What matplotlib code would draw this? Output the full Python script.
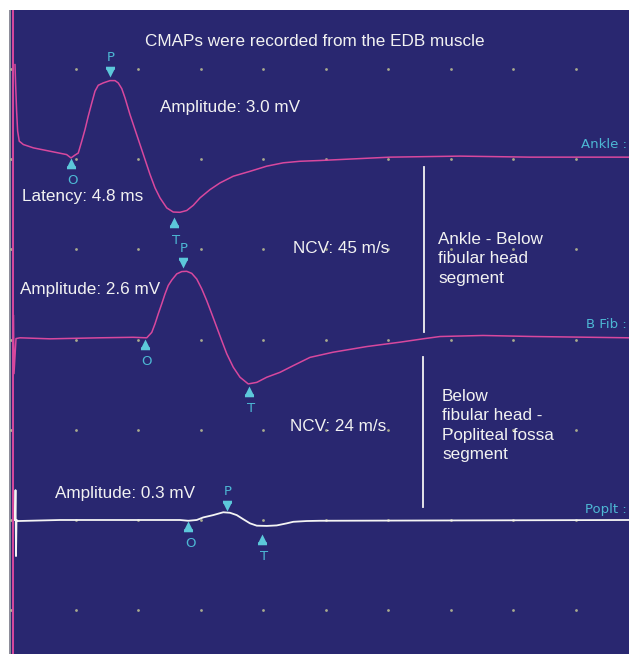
import numpy as np
import matplotlib
matplotlib.use("Agg")
import matplotlib.pyplot as plt
from matplotlib.path import Path
from matplotlib import transforms

# ---------------- data (time in ms, amplitude in mV relative to baseline) ----------------
ankle_t = [0.16, 0.21, 0.29, 0.37, 0.50, 0.83, 1.63, 2.96, 4.29, 4.64, 4.96, 5.22, 5.50,
           5.76, 6.02, 6.30, 6.56, 6.82, 7.22, 7.76, 8.16, 8.42, 8.70, 8.96, 9.36, 9.76,
           10.16, 10.56, 10.96, 11.36, 11.76, 12.30, 12.82, 13.36, 13.90, 14.42, 14.96,
           15.76, 16.56, 17.62, 18.96, 20.30, 21.62, 22.96, 24.56, 30.16, 35.76, 41.36, 49.28]
ankle_mv = [3.67, 2.90, 1.86, 1.09, 0.70, 0.57, 0.44, 0.31, 0.18, 0.05, 0.16, 0.24, 0.70,
            1.15, 1.67, 2.18, 2.64, 2.87, 2.96, 3.05, 3.05, 2.96, 2.74, 2.38, 1.73, 1.15,
            0.57, -0.01, -0.59, -1.11, -1.50, -1.89, -2.05, -2.06, -1.99, -1.79, -1.50,
            -1.18, -0.92, -0.66, -0.47, -0.27, -0.14, -0.08, -0.05, 0.08, 0.12, 0.08, 0.08]

bfib_t = [0.04, 0.08, 0.24, 0.56, 2.96, 6.96, 9.60, 10.70, 11.10, 11.36, 11.62, 11.90,
          12.16, 12.42, 12.70, 13.10, 13.50, 13.90, 14.30, 14.70, 15.10, 15.50, 15.90,
          16.30, 16.70, 17.10, 17.62, 18.16, 18.82, 19.50, 20.30, 21.36, 22.42, 23.76,
          25.60, 28.30, 30.96, 32.80, 34.16, 37.60, 41.60, 49.28]
bfib_mv = [0.93, -1.32, 0.04, 0.07, 0.03, 0.07, 0.09, 0.07, 0.28, 0.61, 1.00, 1.39,
           1.77, 2.10, 2.31, 2.55, 2.64, 2.65, 2.57, 2.35, 1.97, 1.51, 1.00,
           0.48, -0.04, -0.55, -1.07, -1.46, -1.72, -1.66, -1.46, -1.27, -1.01, -0.69,
           -0.49, -0.27, -0.10, 0.03, 0.12, 0.16, 0.12, 0.07]

poplt_t = [0.16, 0.20, 0.24, 0.28, 0.40, 3.76, 8.56, 13.36, 14.02, 14.70, 15.22, 16.02,
           16.82, 17.36, 17.90, 18.42, 18.96, 19.50, 20.30, 21.10, 21.90, 22.42, 23.50,
           24.56, 49.28]
poplt_mv = [0.00, 1.16, -1.40, 0.00, -0.04, 0.00, 0.00, 0.00, -0.03, 0.00, 0.10, 0.19,
            0.30, 0.28, 0.19, 0.03, -0.13, -0.22, -0.23, -0.21, -0.13, -0.07, -0.04,
            -0.03, 0.00]

# marker times (onset O, peak P, trough T) in ms
ankle_marks = {"O": 4.64, "P": 7.76, "T": 12.88}
bfib_marks = {"O": 10.56, "P": 13.60, "T": 18.88}
poplt_marks = {"O": 14.00, "P": 17.12, "T": 19.92}

channel_labels = ["Ankle :", "B Fib :", "Poplt :"]
title_text = "CMAPs were recorded from the EDB muscle"
amp_texts = ["Amplitude: 3.0 mV", "Amplitude: 2.6 mV", "Amplitude: 0.3 mV"]
latency_text = "Latency: 4.8 ms"
ncv_texts = ["NCV: 45 m/s", "NCV: 24 m/s"]
segment_texts = ["Ankle - Below\nfibular head\nsegment",
                 "Below\nfibular head -\nPopliteal fossa\nsegment"]

# ---------------- style / layout ----------------
BG = "#292770"
MAG = "#d8489e"
CYAN = "#5cc8da"
CYAN_TXT = "#4db8d4"
TXT = "#f2f2f2"
DOT = "#a9aa8e"
FONT = "Liberation Sans"

W, H = 629, 654
fig = plt.figure(figsize=(W / 100, H / 100), dpi=100, facecolor="white")
ax = fig.add_axes([9 / W, 0, 620 / W, 644 / H])
ax.set_facecolor(BG)
ax.set_xlim(-0.32, 49.28)
ax.set_ylim(-5.2, 19.79)
ax.set_xticks([])
ax.set_yticks([])
for s in ax.spines.values():
    s.set_visible(False)

# left strip and cursor
ax.axvspan(-0.32, -0.13, color="#8d8d9a", zorder=1, lw=0)
ax.axvline(0.0, color=MAG, lw=1.4, zorder=2)

# grid dots
gx = np.arange(5, 50, 5)
gy = np.arange(-3.5, 19.0, 3.5)
GX, GY = np.meshgrid(gx, gy)
ax.scatter(GX.ravel(), GY.ravel(), s=4, color=DOT, lw=0, zorder=1.5)
ax.scatter(np.full(len(gy), -0.2), gy, s=4, color="#b0b0a0", lw=0, zorder=1.5)

offsets = [14.0, 7.0, 0.0]
traces = [(ankle_t, ankle_mv, MAG, 1.1), (bfib_t, bfib_mv, MAG, 1.1),
          (poplt_t, poplt_mv, "#f4f4f4", 1.3)]
for (t, v, c, lw), off in zip(traces, offsets):
    ax.plot(t, np.array(v) + off, color=c, lw=lw, zorder=3, solid_joinstyle="round")

# segment divider lines
ax.plot([32.88, 32.88], [13.70, 7.30], color=TXT, lw=1.3, zorder=2)
ax.plot([32.80, 32.80], [6.33, 0.50], color=TXT, lw=1.3, zorder=2)

# markers
up_verts = [(0, 0), (0.36, -0.72), (0.42, -0.72), (0.42, -1.0), (-0.42, -1.0),
            (-0.42, -0.72), (-0.36, -0.72), (0, 0)]
up_marker = Path(up_verts, closed=True)
down_marker = Path([(x, -y) for x, y in up_verts], closed=True)

gaps = [{"O": 0, "P": 4, "T": 5}, {"O": 1, "P": 4, "T": 2}, {"O": 0, "P": 2, "T": 8}]
marks_all = [ankle_marks, bfib_marks, poplt_marks]
for (t, v, _, _), off, marks, gap in zip(traces, offsets, marks_all, gaps):
    for letter, tm in marks.items():
        yv = np.interp(tm, t, v) + off
        if letter == "P":
            tr = transforms.offset_copy(ax.transData, fig=fig, x=0, y=gap[letter], units="dots")
            ax.plot([tm], [yv], marker=down_marker, ms=15.5, color=CYAN, mew=0,
                    transform=tr, zorder=4)
            ax.annotate(letter, xy=(tm, yv), xytext=(1, gap[letter] + 19),
                        textcoords="offset pixels", ha="center", va="center",
                        color=CYAN_TXT, fontsize=9.5, family="DejaVu Sans", zorder=5)
        else:
            tr = transforms.offset_copy(ax.transData, fig=fig, x=0, y=-gap[letter], units="dots")
            ax.plot([tm], [yv], marker=up_marker, ms=15.5, color=CYAN, mew=0,
                    transform=tr, zorder=4)
            ax.annotate(letter, xy=(tm, yv), xytext=(2, -gap[letter] - 23),
                        textcoords="offset pixels", ha="center", va="center",
                        color=CYAN_TXT, fontsize=9.5, family="DejaVu Sans", zorder=5)

# texts
fs = 12.3
ax.text(24.16, 18.58, title_text, ha="center", va="center", color=TXT, fontsize=fs, family=FONT)
ax.text(11.76, 15.99, amp_texts[0], ha="left", va="center", color=TXT, fontsize=fs, family=FONT)
ax.text(0.72, 12.57, latency_text, ha="left", va="center", color=TXT, fontsize=fs, family=FONT)
ax.text(0.56, 8.93, amp_texts[1], ha="left", va="center", color=TXT, fontsize=fs, family=FONT)
ax.text(3.36, 1.01, amp_texts[2], ha="left", va="center", color=TXT, fontsize=fs, family=FONT)
ax.text(22.4, 10.52, ncv_texts[0], ha="left", va="center", color=TXT, fontsize=fs, family=FONT)
ax.text(22.2, 3.61, ncv_texts[1], ha="left", va="center", color=TXT, fontsize=fs, family=FONT)
ax.text(34.0, 10.13, segment_texts[0], ha="left", va="center", color=TXT, fontsize=fs,
        family=FONT, linespacing=1.38)
ax.text(34.32, 3.67, segment_texts[1], ha="left", va="center", color=TXT, fontsize=fs,
        family=FONT, linespacing=1.38)

for lab, y in zip(channel_labels, [14.59, 7.57, 0.39]):
    ax.text(49.1, y, lab, ha="right", va="center", color=CYAN_TXT, fontsize=9.5,
            family="DejaVu Sans")

fig.savefig("out.png", dpi=100, facecolor="white")
